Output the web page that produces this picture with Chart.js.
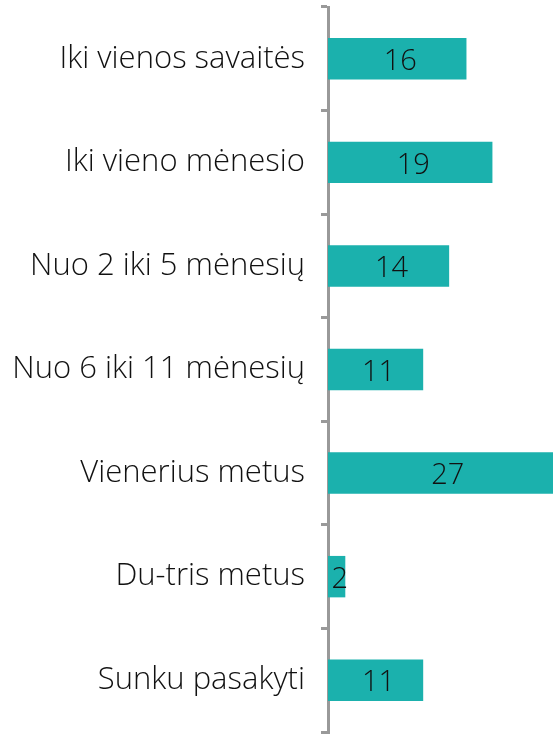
<!DOCTYPE html>
<html>
<head>
<meta charset="utf-8">
<script src="https://cdn.jsdelivr.net/npm/chart.js@4"></script>
<style>
  html, body { margin: 0; padding: 0; background: #fff; }
  #wrap { width: 553px; height: 735px; position: relative; }
</style>
</head>
<body>
<div id="wrap"><canvas id="chart"></canvas></div>
<script>
const categories = ["Iki vienos savaitės", "Iki vieno mėnesio", "Nuo 2 iki 5 mėnesių", "Nuo 6 iki 11 mėnesių", "Vienerius metus", "Du-tris metus", "Sunku pasakyti"];
const values = [16, 19, 14, 11, 27, 2, 11];

const fontFamily = "'Open Sans', 'Noto Sans', sans-serif";

// draw the number in the middle of each bar
const valueLabels = {
    id: 'valueLabels',
    afterDatasetsDraw(chart) {
        const ctx = chart.ctx;
        const meta = chart.getDatasetMeta(0);
        ctx.save();
        ctx.font = "300 29px " + fontFamily;
        ctx.fillStyle = '#111';
        ctx.textAlign = 'center';
        ctx.textBaseline = 'middle';
        meta.data.forEach((bar, i) => {
            const cx = (bar.base + bar.x) / 2 + 3;
            ctx.fillText(values[i], cx, bar.y + 3);
        });
        ctx.restore();
    }
};

const ctx = document.getElementById('chart').getContext('2d');
new Chart(ctx, {
    type: 'bar',
    data: {
        labels: categories,
        datasets: [{
            data: values,
            backgroundColor: '#1BB1AD',
            borderWidth: 0,
            barPercentage: 0.8,
            categoryPercentage: 0.5
        }]
    },
    options: {
        indexAxis: 'y',
        responsive: true,
        maintainAspectRatio: false,
        animation: false,
        layout: { padding: { top: 7, bottom: 3, left: 0, right: 0 } },
        plugins: {
            legend: { display: false },
            tooltip: { enabled: false }
        },
        scales: {
            x: {
                display: false,
                min: 0,
                max: 26
            },
            y: {
                afterFit(scale) {
                    scale.width = 328;
                    scale.paddingTop = 0;
                    scale.paddingBottom = 0;
                },
                border: { color: '#999999', width: 3 },
                grid: {
                    drawOnChartArea: false,
                    color: '#999999',
                    lineWidth: 3,
                    tickLength: 7,
                    offset: true
                },
                ticks: {
                    color: '#111',
                    padding: 16,
                    font: { family: fontFamily, size: 31, weight: '300' }
                }
            }
        }
    },
    plugins: [valueLabels]
});
</script>
</body>
</html>
